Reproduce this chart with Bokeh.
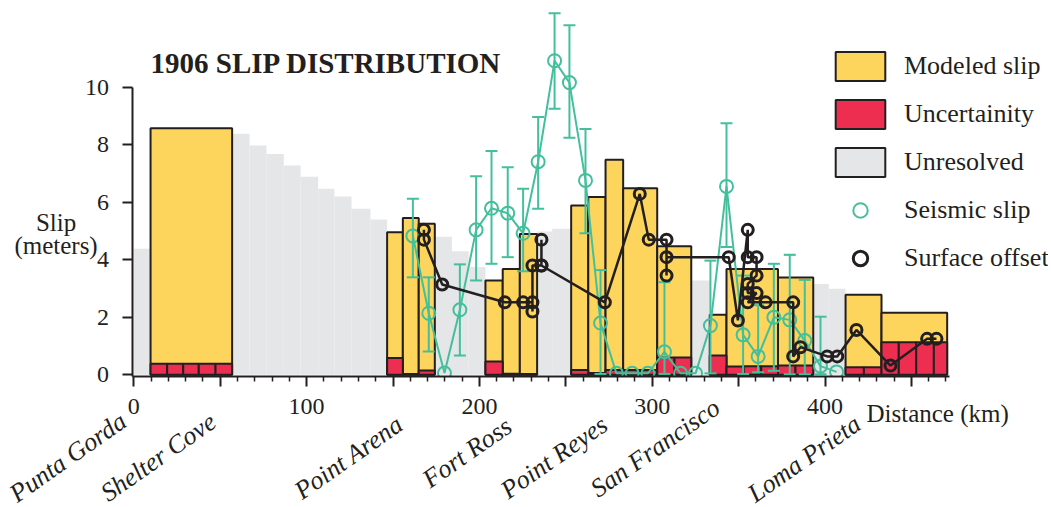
import math
from bokeh.plotting import figure
from bokeh.models import Range1d, FixedTicker, Label, Legend, LegendItem, BoxAnnotation
from bokeh.core.properties import value
from bokeh.embed import file_html
from bokeh.resources import INLINE

# ---------------- data ----------------
# Modeled slip (yellow bars): left edge, right edge (km) and slip (m)
yel_left = [9.7, 146.6, 155.7, 164.9, 203.5, 213.5, 223.4, 253.1, 263.0, 273.0, 283.2, 302.9, 333.3, 343.0, 372.8, 411.9, 432.7]
yel_right = [56.9, 155.7, 164.9, 174.2, 213.5, 223.4, 233.4, 263.0, 273.0, 283.2, 302.9, 322.6, 343.0, 372.8, 393.2, 432.7, 470.7]
yel_top = [8.57, 4.96, 5.45, 5.25, 3.28, 3.68, 4.90, 5.89, 6.18, 7.48, 6.49, 4.47, 2.09, 3.68, 3.38, 2.78, 2.16]

# Uncertainty (red bins)
red_left = [9.7, 19.3, 28.6, 37.6, 47.3, 146.6, 155.7, 164.9, 203.5, 213.5, 223.4, 253.1, 263.0, 273.0, 283.2, 293.1,
            302.9, 312.9, 333.3, 343.0, 353.0, 363.1, 372.8, 382.9, 411.9, 422.5, 432.7, 442.7, 452.8, 463.0]
red_right = [19.3, 28.6, 37.6, 47.3, 56.9, 155.7, 164.9, 174.2, 213.5, 223.4, 233.4, 263.0, 273.0, 283.2, 293.1, 302.9,
             312.9, 322.6, 343.0, 353.0, 363.1, 372.8, 382.9, 393.2, 422.5, 432.7, 442.7, 452.8, 463.0, 470.7]
red_top = [0.38, 0.38, 0.38, 0.38, 0.38, 0.58, 0.03, 0.15, 0.46, 0.04, 0.03, 0.17, 0.06, 0.17, 0.17, 0.17,
           0.60, 0.60, 0.67, 0.29, 0.30, 0.30, 0.32, 0.32, 0.26, 0.26, 1.13, 1.13, 1.13, 1.13]

# Unresolved (gray steps)
gray_left = [0.0, 57.1, 67.0, 76.8, 86.8, 96.5, 106.7, 116.1, 126.0, 137.0, 174.2, 184.1, 193.8, 233.4, 242.1, 322.6, 393.2, 402.2]
gray_right = [9.7, 67.0, 76.8, 86.8, 96.5, 106.7, 116.1, 126.0, 137.0, 146.6, 184.1, 193.8, 203.5, 242.1, 253.1, 333.3, 402.2, 411.9]
gray_top = [4.38, 8.38, 7.97, 7.68, 7.28, 6.89, 6.47, 6.20, 5.77, 5.40, 4.80, 4.30, 3.75, 4.98, 5.08, 3.28, 3.16, 2.99]

# Seismic slip with error bars (nan = no bar)
nan = float("nan")
seis_x = [161.5, 170.7, 179.8, 188.7, 198.1, 207.0, 216.4, 225.3, 234.0, 243.5, 252.1, 261.4, 270.1, 279.3,
          288.4, 297.5, 307.1, 316.4, 325.1, 333.7, 343.0, 352.6, 361.3, 370.4, 379.6, 388.3, 397.4, 406.7]
seis_y = [4.83, 2.14, 0.06, 2.26, 5.04, 5.79, 5.62, 4.92, 7.41, 10.92, 10.16, 6.76, 1.80, 0.05,
          0.05, 0.05, 0.80, 0.05, 0.05, 1.71, 6.55, 1.39, 0.64, 2.00, 1.91, 1.19, 0.30, 0.10]
seis_hi = [6.12, 3.39, nan, 3.84, 6.90, 7.78, 7.22, 6.47, 8.96, 12.57, 12.15, 8.55, 3.64, nan,
           nan, nan, 3.22, nan, nan, 3.97, 8.75, 3.45, 2.42, 3.86, 4.17, 3.30, 2.02, nan]
seis_lo = [3.39, 0.81, nan, 0.67, 3.28, 3.86, 4.09, 3.60, 5.77, 9.25, 8.24, 4.92, 0.03, nan,
           nan, nan, 0.03, nan, nan, 0.05, 4.44, 0.03, 0.09, 0.14, 0.02, 0.02, 0.02, nan]

# Surface offset (connected in survey order)
surf_x = [167.9, 167.9, 178.5, 214.7, 225.3, 230.7, 230.7, 230.7, 235.9, 235.9, 235.9, 272.6, 292.8, 298.0,
          308.3, 308.3, 308.3, 344.3, 349.6, 355.3, 355.3, 360.4, 360.4, 355.3, 355.3, 360.4, 355.3, 365.6,
          381.6, 381.6, 385.8, 401.3, 407.1, 418.2, 437.9, 459.1, 464.5]
surf_y = [5.04, 4.70, 3.14, 2.52, 2.52, 2.52, 2.20, 3.80, 3.80, 4.70, 3.80, 2.52, 6.29, 4.70,
          4.70, 3.45, 4.09, 4.09, 1.89, 5.04, 4.09, 4.09, 3.45, 3.16, 2.84, 2.84, 2.52, 2.52,
          2.52, 0.64, 0.96, 0.64, 0.64, 1.56, 0.32, 1.25, 1.25]

# Axis ticks
x_major = [0, 50, 100, 150, 200, 250, 300, 350, 400, 450]
x_labels = ["0", "", "100", "", "200", "", "300", "", "400", ""]
x_minor = [10, 20, 30, 40, 60, 70, 80, 90, 110, 120, 130, 140, 160, 170, 180, 190, 210, 220, 230, 240,
           260, 270, 280, 290, 310, 320, 330, 340, 360, 370, 380, 390, 410, 420, 430, 440, 460, 470]
y_major = [0, 2, 4, 6, 8, 10]

# Place names along the fault (label start, km / m below axis)
cities = ["Punta Gorda", "Shelter Cove", "Point Arena", "Fort Ross", "Point Reyes", "San Francisco", "Loma Prieta"]
city_x = [-70.2, -17.5, 94.7, 168.8, 214.0, 266.0, 357.0]
city_y = [-4.22, -4.20, -4.12, -3.72, -4.10, -4.05, -4.22]

# ---------------- styles ----------------
INK = "#231f20"
YEL = "#fdd45c"
RED = "#ee2e50"
GRAY = "#e5e6e8"
GREEN = "#43c09b"
FONT = "Liberation Serif"

W, H = 1048, 507
PX_PER_KM, PX_PER_M = 1.728, 28.76
X0_PX, Y0_PX = 133.3, 374.3
x_start = -X0_PX / PX_PER_KM
y_end = Y0_PX / PX_PER_M
AXIS_Y = -0.06
AXIS_X = -0.5

p = figure(width=W, height=H,
           x_range=Range1d(x_start, x_start + W / PX_PER_KM),
           y_range=Range1d(y_end - H / PX_PER_M, y_end),
           output_backend="svg", toolbar_location=None,
           min_border_left=0, min_border_right=0, min_border_top=0, min_border_bottom=0)
p.outline_line_color = None
p.xgrid.grid_line_color = None
p.ygrid.grid_line_color = None

r_gray = p.quad(left=gray_left, right=gray_right, bottom=0, top=gray_top, fill_color=GRAY, line_color=None)
r_yel = p.quad(left=yel_left, right=yel_right, bottom=0, top=yel_top, fill_color=YEL,
               line_color=INK, line_width=2)
r_red = p.quad(left=red_left, right=red_right, bottom=0, top=red_top, fill_color=RED,
               line_color=INK, line_width=2)
r_gray_leg = p.quad(left=gray_left, right=gray_right, bottom=0, top=gray_top, fill_color=GRAY,
                    line_color=INK, line_width=2, visible=False)

# seismic
p.line(seis_x, seis_y, line_color=GREEN, line_width=2)
eb = [(x, lo, hi) for x, lo, hi in zip(seis_x, seis_lo, seis_hi) if not (math.isnan(lo) or math.isnan(hi))]
ex = [e[0] for e in eb]
elo = [e[1] for e in eb]
ehi = [e[2] for e in eb]
p.segment(x0=ex, y0=elo, x1=ex, y1=ehi, line_color=GREEN, line_width=2)
p.scatter(ex, ehi, marker="dash", size=12, line_color=GREEN, line_width=2)
p.scatter(ex, elo, marker="dash", size=12, line_color=GREEN, line_width=2)
r_seis = p.scatter(seis_x, seis_y, marker="circle", size=13, fill_color=None, line_color=GREEN, line_width=2)

# surface offsets
p.line(surf_x, surf_y, line_color=INK, line_width=2.5)
r_surf = p.scatter(surf_x, surf_y, marker="circle", size=11, fill_color=None, line_color=INK, line_width=3)

# marks are cut at the distance axis, as in a clipped plot area
p.add_layout(BoxAnnotation(left=AXIS_X, right=472, top=AXIS_Y, bottom=-0.4, fill_color="white",
                           fill_alpha=1, line_color=None, level="glyph"))

# axes (placed at fixed data locations)
xax = p.xaxis[0]
xax.ticker = FixedTicker(ticks=x_major, minor_ticks=x_minor)
xax.major_label_overrides = {t: l for t, l in zip(x_major, x_labels)}
xax.bounds = (AXIS_X, 472)
xax.fixed_location = AXIS_Y
xax.major_tick_out = 10
xax.major_tick_in = 0
xax.minor_tick_out = 5
xax.minor_tick_in = 0
xax.major_label_standoff = 12

yax = p.yaxis[0]
yax.ticker = FixedTicker(ticks=y_major, minor_ticks=[])
yax.bounds = (AXIS_Y, 10)
yax.fixed_location = AXIS_X
yax.major_tick_out = 10
yax.major_tick_in = 0
yax.major_label_standoff = 14

for ax in (xax, yax):
    ax.axis_line_color = INK
    ax.axis_line_width = 2
    ax.major_tick_line_color = INK
    ax.major_tick_line_width = 2
    ax.minor_tick_line_width = 1.5
    ax.major_label_text_font = FONT
    ax.major_label_text_font_size = "24px"
    ax.major_label_text_color = INK
xax.minor_tick_line_color = INK
yax.minor_tick_line_color = None

# text annotations
p.add_layout(Label(x=9.7, y=10.29, text="1906 SLIP DISTRIBUTION", text_font=FONT, text_font_size="29px",
                   text_font_style="bold", text_color=INK))
p.add_layout(Label(x=-45, y=5.31, text="Slip", text_font=FONT, text_font_size="25px", text_color=INK,
                   text_align="center", text_baseline="alphabetic"))
p.add_layout(Label(x=-45, y=4.50, text="(meters)", text_font=FONT, text_font_size="25px", text_color=INK,
                   text_align="center", text_baseline="alphabetic"))
p.add_layout(Label(x=424, y=-1.35, text="Distance (km)", text_font=FONT, text_font_size="25px", text_color=INK,
                   text_baseline="alphabetic"))
for name, cx, cy in zip(cities, city_x, city_y):
    p.add_layout(Label(x=cx, y=cy, text=name, angle=35, angle_units="deg", text_font=FONT,
                       text_font_size="26px", text_font_style="italic", text_color=INK,
                       text_align="left", text_baseline="alphabetic"))

legend = Legend(items=[
    LegendItem(label=value("Modeled slip"), renderers=[r_yel]),
    LegendItem(label=value("Uncertainity"), renderers=[r_red]),
    LegendItem(label=value("Unresolved"), renderers=[r_gray_leg]),
    LegendItem(label=value("Seismic slip"), renderers=[r_seis]),
    LegendItem(label=value("Surface offset"), renderers=[r_surf]),
], location=(829, 231), glyph_width=62, glyph_height=36, spacing=12, padding=0, margin=0,
    label_standoff=13, border_line_color=None, background_fill_alpha=0,
    inactive_fill_alpha=0, click_policy="none",
    label_text_font=FONT, label_text_font_size="26px", label_text_color=INK)
p.add_layout(legend)

open("out.html", "w").write(file_html(p, INLINE))
